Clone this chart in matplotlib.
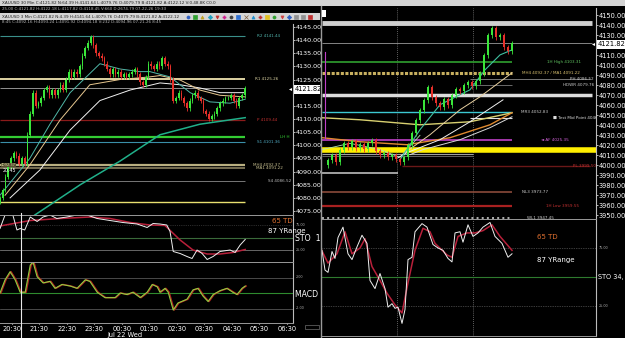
import numpy as np
import matplotlib
matplotlib.use("Agg")
import matplotlib.pyplot as plt
from matplotlib.patches import Rectangle

# ======================= DATA =======================
# ---- Left window: XAUUSD 3 Min (x = minutes after 20:00) ----
left_close = [4080, 4083, 4088, 4092, 4095, 4097, 4096, 4093, 4095, 4093,
              4104, 4112, 4120, 4115, 4116, 4118, 4121, 4122, 4119, 4121,
              4119, 4121, 4123, 4121, 4125, 4128, 4126, 4128, 4127, 4130,
              4134, 4137, 4139, 4141, 4138, 4135, 4134, 4133, 4131, 4129,
              4127, 4129, 4127, 4128, 4126, 4127, 4126, 4127, 4128, 4129,
              4127, 4124, 4123, 4126, 4131, 4130, 4129, 4131, 4130, 4133,
              4131, 4130, 4125, 4117, 4118, 4120, 4118, 4116, 4114, 4117,
              4119, 4120, 4118, 4117, 4113, 4112, 4110, 4111, 4112, 4114,
              4116, 4117, 4118, 4118, 4119, 4117, 4115, 4118, 4119, 4121.82]
left_first_open = 4078.5
left_start_min = 4
left_step_min = 6

left_ma1_t = [4, 69, 113, 157, 222, 266, 309, 331, 375, 419, 462, 506, 539]
left_ma1 = [4081, 4095, 4108, 4120, 4131, 4129, 4128, 4128, 4126, 4120, 4116.5, 4116, 4117.5]
left_ma2_t = [15, 69, 135, 200, 266, 331, 353, 397, 440, 484, 539]
left_ma2 = [4081, 4092.5, 4109.6, 4123, 4125, 4126, 4126.5, 4124.8, 4121, 4119, 4118.4]
left_ma3_t = [26, 91, 157, 222, 288, 353, 397, 440, 484, 539]
left_ma3 = [4080, 4090.6, 4105.8, 4117, 4121, 4123.7, 4123, 4121.8, 4120, 4120]
left_ma4_t = [80, 179, 266, 353, 440, 539]
left_ma4 = [4073.5, 4085, 4094, 4104, 4108, 4110.5]

left_level_values = [4141.44, 4125.26, 4121.82, 4109.44, 4103.2, 4101.36,
                     4092.37, 4091.22, 4086.52, 4078.6]
left_level_labels = ["R2 4141.44", "R1 4125.26", "", "P 4109.44", "LH H",
                     "S1 4101.36", "MH4 4092.37", "MA1 4091.22", "S4 4086.52", ""]

left_sto_t = [4, 15, 32, 41, 48, 58, 70, 85, 98, 113, 128, 150, 172, 194, 216, 244,
              272, 303, 325, 338, 353, 368, 375, 382, 397, 412, 423, 434, 445, 456,
              469, 484, 506, 517, 528, 539]
left_sto_k = [68, 95, 95, 65, 68, 65, 91, 82, 91, 95, 88, 91, 95, 95, 88, 84,
              80, 77, 70, 78, 77, 75, 62, 22, 18, 12, 8, 25, 18, 6,
              12, 22, 25, 20, 35, 46]
left_sto_d_t = [4, 70, 135, 200, 244, 288, 331, 364, 397, 425, 456, 484, 512, 539]
left_sto_d = [73, 84, 88, 91, 88, 80, 75, 74, 45, 25, 17, 17, 20, 26]

left_macd_t = [4, 15, 26, 37, 48, 59, 70, 76, 85, 98, 113, 124, 139, 157, 172, 190,
               200, 216, 233, 255, 266, 281, 294, 310, 325, 336, 347, 353, 364, 371,
               382, 392, 412, 425, 436, 447, 458, 469, 484, 499, 512, 521, 532, 539]
left_macd = [0, 1.7, 2.75, 1.7, 0.1, 0.1, 3.6, 4.0, 2.1, 1.3, 1.5, 0.6, 1.1, 0.9, 0.6, 1.7,
             1.5, 0.1, -0.6, -0.6, 0, -0.2, 0.1, -0.6, 0.1, 1.1, 0.8, 0.1, 0.6, 0.1,
             -2.2, -1.3, -0.8, 0.4, 0.6, -0.4, -1.1, -0.2, 0.3, 0.6, 0.1, -0.2, 0.6, 0.9]

left_time_t = [30, 90, 150, 210, 270, 330, 390, 450, 510, 570, 630]
left_time_labels = ["20:30", "21:30", "22:30", "23:30", "00:30", "01:30",
                    "02:30", "03:30", "04:30", "05:30", "06:30"]
left_price_ticks = list(range(4075, 4146, 5))

# ---- Right window: XAUUSD 30 Min (x = bar index) ----
right_close = [4005, 4010, 4003, 4015, 4022, 4018, 4024, 4017, 4021, 4016,
               4022, 4025, 4014, 4010, 4012, 4008, 4010, 4006, 4003, 4008,
               4020, 4032, 4045, 4055, 4065, 4078, 4068, 4062, 4058, 4066,
               4060, 4070, 4076, 4074, 4080, 4083, 4079, 4084, 4092, 4110,
               4130, 4137, 4128, 4130, 4118, 4114, 4121.82]
right_first_open = 4000

right_ma_yellow_x = [-1.5, 8, 23, 35.5, 46]
right_ma_yellow = [4047.5, 4045.5, 4040.5, 4043.5, 4052.5]
right_ma_orange_x = [-1.5, 8, 19.75, 30.5, 40.5, 46]
right_ma_orange = [4027.6, 4023.6, 4020.6, 4027.6, 4040.5, 4052.5]
right_ma_white1_x = [17.5, 19.75, 28, 35.5, 43.75]
right_ma_white1 = [4007.7, 4012.7, 4025.6, 4043.5, 4065.4]
right_ma_white2_x = [20.5, 23.75, 33, 40.5, 46]
right_ma_white2 = [4010.7, 4015.7, 4025.6, 4037.6, 4048.5]
right_ma_cream_x = [19.25, 25.5, 33, 38, 46]
right_ma_cream = [4012.7, 4030.6, 4055.5, 4068.4, 4092.3]
right_ma_green_x = [18, 23, 28, 35.5, 39.25, 43, 46]
right_ma_green = [4005.7, 4035.6, 4060.5, 4075.4, 4095.3, 4110.2, 4115.2]
right_ma_pale_x = [-1.5, 5.5, 13, 18, 23]
right_ma_pale = [4015.7, 4022, 4015.7, 4008, 4030]

right_level_values = [4142.0, 4121.82, 4103.31, 4092.37, 4086.52, 4079.76, 4070.4,
                      4052.83, 4047.0, 4025.35, 4015.7, 4011.5, 4009.3, 3999.5,
                      3992.8, 3973.77, 3959.55, 3947.45]
right_level_labels = ["", "", "1H High 4103.31", "MH4 4092.37 / MA1 4091.22", "PH 4086.52",
                      "HDWR 4079.76", "", "MR3 4052.83", "\u25a0 Test Mid Point 4046", "\u25c4 AF 4025.35",
                      "", "", "", "PL 3999.50", "", "NL3 3973.77", "1H Low 3959.55", "WL1 3947.45"]
right_level_start = [-1.5, -1.5, -1.5, -1.5, 35.5, 35.5, -1.5, -1.5, 35.5, -1.5,
                     -1.5, -1.5, -1.5, 18.5, -1.5, -1.5, -1.5, -1.5]
right_level_end = [66, 66, 46, 46, 65.5, 46, 66, 46, 46, 46,
                   67, 36.25, 36.25, 65.5, 17.5, 46, 46, 46]
right_day_breaks = [17.25, 36.25]

right_sto_k_x = [-1.5, -0.75, 0, 1, 1.75, 2.5, 3.75, 5, 6, 7.25, 8.5, 9.75, 10.5, 11.75, 13,
                 14.25, 15, 16, 16.75, 17.5, 18.5, 19.25, 20, 21, 21.75, 23.5, 24.75, 26.25,
                 27.5, 28.75, 30, 31, 31.75, 33, 33.75, 35, 36.25, 37.5, 38.75, 40.5, 41.75,
                 43.5, 44.25, 45, 46]
right_sto_k = [73, 56, 54, 72, 66, 84, 93, 70, 65, 76, 86, 79, 47, 40, 53,
               40, 24, 27, 23, 24, 10, 22, 65, 67, 89, 96, 93, 78,
               75, 73, 66, 63, 88, 89, 80, 95, 85, 88, 93, 97, 85,
               79, 73, 67, 70]
right_sto_d_x = [-2, 0, 2.25, 4.25, 6, 8, 9.25, 11, 13, 14.75, 16.75, 18.5, 20, 21.75,
                 23.75, 25.5, 26.75, 29.75, 31, 32.5, 34.75, 36.75, 38.75, 41, 43, 46]
right_sto_d = [76, 62, 70, 89, 70, 75, 83, 59, 47, 36, 26, 19, 45, 73,
               92, 89, 79, 69, 67, 85, 88, 88, 90, 95, 85, 73]
right_price_ticks = list(range(3950, 4151, 10))

# ======================= DRAWING =======================
W, H = 625, 338
fig = plt.figure(figsize=(W / 100, H / 100), dpi=100, facecolor='black')


def pax(x0, y0, x1, y1, z=1):
    ax = fig.add_axes([x0 / W, 1 - y1 / H, (x1 - x0) / W, (y1 - y0) / H], zorder=z)
    ax.set_facecolor('black')
    for s in ax.spines.values():
        s.set_visible(False)
    ax.tick_params(left=False, bottom=False, right=False, top=False,
                   labelleft=False, labelbottom=False)
    return ax


def price_axis(ax, ticks, size, hide=()):
    ax.yaxis.tick_right()
    ax.set_yticks(ticks)
    ax.set_yticklabels(['' if t in hide else f'{t:.2f}' for t in ticks])
    ax.tick_params(axis='y', right=True, labelright=True, colors='white',
                   labelsize=size, length=1.5, width=0.5, pad=0.6)


def vspine(ax):
    ax.spines['right'].set_visible(True)
    ax.spines['right'].set_color('#bbbbbb')
    ax.spines['right'].set_linewidth(0.8)


def candles(ax, x, closes, first_open, width, wick):
    c = np.asarray(closes, float)
    o = np.concatenate([[first_open], c[:-1]])
    hi = np.maximum(o, c) + wick
    lo = np.minimum(o, c) - wick
    col = np.where(c >= o, '#3ae63a', '#e8302a')
    ax.vlines(x, lo, hi, colors=col, lw=0.6, zorder=4)
    ax.bar(x, c - o, bottom=o, width=width, color=col, linewidth=0, zorder=4)


# ---------- left main ----------
lx = left_start_min + left_step_min * np.arange(len(left_close))
axL = pax(0, 24, 293, 215)
axL.set_xlim(4, 643.3)
axL.set_ylim(4073.5, 4146.1)
price_axis(axL, left_price_ticks, 4.6, hide=(4120,))
vspine(axL)

l_lvl_col = ['#3a8f8a', '#efe4b0', '#a8a8a8', '#8b1a1a', '#33cc33', '#3a8fa8',
             '#b8ae80', '#8a8060', '#8a8a8a', '#e8e070']
l_lvl_lw = [0.8, 1.3, 0.6, 0.9, 1.6, 0.8, 1.6, 1.2, 0.6, 1.0]
l_lbl_x = [565, 560, 0, 565, 615, 565, 555, 563, 589, 0]
l_lbl_col = ['#4fb0a8', '#d8d0a0', '#999', '#c03030', '#33cc33', '#4fa8c0',
             '#c8c090', '#c8c090', '#bbbbbb', '#ccc']
for v, lab, c, lw, tx, tc in zip(left_level_values, left_level_labels, l_lvl_col,
                                  l_lvl_lw, l_lbl_x, l_lbl_col):
    axL.hlines(v, 4, 539, color=c, lw=lw, zorder=2)
    if lab:
        axL.text(tx, v, lab, fontsize=3.0, color=tc, va='center', clip_on=True)

axL.plot(left_ma4_t, left_ma4, color='#20b08a', lw=1.1, zorder=3)
axL.plot(left_ma3_t, left_ma3, color='#f2f2f2', lw=0.7, zorder=3)
axL.plot(left_ma2_t, left_ma2, color='#e8c890', lw=0.7, zorder=3)
axL.plot(left_ma1_t, left_ma1, color='#50b8a8', lw=0.7, zorder=3)
candles(axL, lx, left_close, left_first_open, 4.2, 0.9)

# ---------- left STO ----------
axLS = pax(0, 215, 293, 262)
axLS.set_xlim(4, 643.3)
axLS.set_ylim(1, 95)
vspine(axLS)
axLS.spines['top'].set_visible(True)
axLS.spines['top'].set_color('#999999')
axLS.spines['top'].set_linewidth(0.7)
axLS.axhline(50, color='#3a6a3a', lw=0.8)
axLS.axhline(75, color='#555555', lw=0.5, ls=':')
axLS.axhline(25, color='#777777', lw=0.6)
axLS.plot(left_sto_d_t, left_sto_d, color='#b8203a', lw=1.1)
axLS.plot(left_sto_t, left_sto_k, color='#f0f0f0', lw=0.7)

# ---------- left MACD ----------
axLM = pax(0, 262, 293, 323)
axLM.set_xlim(4, 643.3)
axLM.set_ylim(-3.87, 4.0)
vspine(axLM)
for s in ('top', 'bottom'):
    axLM.spines[s].set_visible(True)
    axLM.spines[s].set_color('#999999')
    axLM.spines[s].set_linewidth(0.7)
axLM.axhline(0, color='#2e8b2e', lw=0.8)
axLM.axhline(2, color='#666666', lw=0.5)
axLM.axhline(-2, color='#666666', lw=0.5)
axLM.plot(np.asarray(left_macd_t) + 2, left_macd, color='#b02020', lw=1.1)
axLM.plot(left_macd_t, left_macd, color='#8fd040', lw=0.8)
axLM.set_xticks(left_time_t)
axLM.set_xticklabels(left_time_labels)
axLM.tick_params(axis='x', bottom=True, labelbottom=True, colors='white',
                 labelsize=4.8, length=1, pad=1.5)

# ---------- right main ----------
rx = np.arange(len(right_close))
axR = pax(322, 8, 596, 219)
axR.set_xlim(-1.5, 67)
axR.set_ylim(3946.5, 4157)
price_axis(axR, right_price_ticks, 4.8, hide=(4120,))
vspine(axR)
for b in right_day_breaks:
    axR.axvline(b, color='#808080', lw=0.6, ls=(0, (1, 1.5)), zorder=1)

r_col = ['#cfcfcf', '#9a9a9a', '#2fa02f', '#c8b060', '#8a8a8a', '#7a7a7a', '#dcdcdc',
         '#3cc8d2', '#e0e0e0', '#c040c8', '#ffee00', '#a0a0a0', '#707070', '#6a1818',
         '#bdbdbd', '#8a4a3a', '#a82020', '#b0b0b0']
r_lw = [3.5, 0.6, 1.2, 2.2, 0.6, 0.6, 2.5, 1.0, 0.8, 1.2, 4.0, 0.8, 0.6, 1.0,
        1.2, 1.2, 1.6, 1.4]
r_ls = ['-', '-', '-', (0, (1, 0.5)), '-', '-', '-', '-', '-', '-', '-', '-', '-', '-',
        '-', '-', '-', ':']
r_lbl_x = [0, 0, 54.75, 48.5, 60.5, 58.75, 0, 48.25, 56.25, 53.25, 0, 0, 0, 61.25,
           0, 48.5, 54.5, 49.75]
r_lbl_col = ['w', 'w', '#5fc05f', '#d8c070', '#cccccc', '#cccccc', 'w', '#cccccc',
             '#dddddd', '#d060d8', 'w', 'w', 'w', '#c03030', 'w', '#cccccc',
             '#c03030', '#cccccc']
for v, lab, x0, x1, c, lw, ls, tx, tc in zip(right_level_values, right_level_labels,
                                            right_level_start, right_level_end, r_col,
                                            r_lw, r_ls, r_lbl_x, r_lbl_col):
    axR.hlines(v, x0, x1, color=c, lw=lw, linestyles=ls, zorder=2)
    if lab:
        axR.text(tx, v, lab, fontsize=3.0, color=tc, va='center', clip_on=True)

axR.plot(right_ma_yellow_x, right_ma_yellow, color='#d8d070', lw=1.0, zorder=3)
axR.plot(right_ma_orange_x, right_ma_orange, color='#e08a30', lw=1.0, zorder=3)
axR.plot(right_ma_pale_x, right_ma_pale, color='#b0e0b0', lw=0.6, zorder=3)
axR.plot(right_ma_white1_x, right_ma_white1, color='#f0f0f0', lw=0.7, zorder=3)
axR.plot(right_ma_white2_x, right_ma_white2, color='#d8d8d8', lw=0.7, zorder=3)
axR.plot(right_ma_cream_x, right_ma_cream, color='#e8d0a0', lw=0.7, zorder=3)
axR.plot(right_ma_green_x, right_ma_green, color='#40c0a0', lw=0.8, zorder=3)
candles(axR, rx, right_close, right_first_open, 0.6, 2.5)

# ---------- right STO ----------
axRS = pax(322, 219, 596, 336)
axRS.set_xlim(-1.5, 67)
axRS.set_ylim(-0.86, 100)
vspine(axRS)
for s in ('top', 'bottom'):
    axRS.spines[s].set_visible(True)
    axRS.spines[s].set_color('#999999')
    axRS.spines[s].set_linewidth(0.7)
for b in right_day_breaks:
    axRS.axvline(b, color='#808080', lw=0.6, ls=(0, (1, 1.5)))
axRS.axhline(50, color='#2e7a2e', lw=0.8)
axRS.axhline(75, color='#777777', lw=0.5, ls=(0, (1, 1.5)))
axRS.axhline(25, color='#777777', lw=0.5, ls=(0, (1, 1.5)))
axRS.plot(right_sto_d_x, right_sto_d, color='#b8203a', lw=1.1)
axRS.plot(right_sto_k_x, right_sto_k, color='#f0f0f0', lw=0.7)

# ---------- overlays (pixel coordinates) ----------
top = fig.add_axes([0, 0, 1, 1], zorder=8)
top.set_xlim(0, W)
top.set_ylim(H, 0)
top.axis('off')
top.add_patch(Rectangle((0, 0), W, 6, color='#d4d4d4', lw=0))
top.add_patch(Rectangle((0, 13), 320, 7, color='#d4d4d4', lw=0))
top.plot([321, 321], [6, H], color='#9a9a9a', lw=1.0)
top.text(2, 3, "XAUUSD 30 Min C:4121.82 N:64.39 H:4141.64 L:4079.76 O:4079.79 "
         "B:4121.82 A:4122.12 V:0.48.8K C0.0", fontsize=3.0, color='#222222', va='center')
top.text(2, 9.5, "25.00 C:4121.82 H:4122.18 L:4117.82 O:4118.45 V:660 D:2674.79 "
         "07-22-26 19:33", fontsize=2.9, color='#bbbbbb', va='center')
top.text(2, 16.5, "XAUUSD 3 Min C:4121.82 N:4.39 H:4141.64 L:4079.76 O:4079.79 "
         "B:4121.82 A:4122.12", fontsize=3.0, color='#222222', va='center')
top.text(2, 22, "8:45 C:4092.16 H:4093.24 L:4091.92 O:4094.18 V:232 D:4094.96 "
         "07-21-26 8:45", fontsize=2.9, color='#bbbbbb', va='center')
icon_cols = ['#3060c0', '#30a030', '#c0a020', '#20a0c0', '#c03030', '#d02090', '#404040',
             '#3070d0', '#806040', '#2090d0', '#c03030', '#e0c020', '#30a030', '#d04040',
             '#3060c0', '#909090', '#909090', '#c03030']
icon_mk = ['o', 's', '^', 'D', 'v', 'P', 'o', 's', 'x', '^', 'P', 's', 'o', 'v',
           'D', 's', 's', 's']
for k, (ic, im) in enumerate(zip(icon_cols, icon_mk)):
    top.plot(188 + k * 7.2, 16.5, marker=im, ms=2.2, color=ic, mew=0.5)

lov = fig.add_axes([0, 0, 320 / W, 1], zorder=9)
lov.set_xlim(0, 320)
lov.set_ylim(H, 0)
lov.axis('off')
lov.add_patch(Rectangle((294, 84.5), 27, 9, color='white', lw=0))
lov.text(295, 89.2, "4121.82", fontsize=4.8, color='black', va='center', clip_on=True)
lov.plot(289.5, 89.2, marker='<', ms=2.2, color='white', mew=0)
lov.plot([20.7, 20.7], [213, H], color='#e8e8e8', lw=0.8)
lov.text(1, 165, "4092.37", fontsize=2.6, color='#d8d0a0', va='center',
         bbox=dict(boxstyle='square,pad=0.1', fc='#555030', ec='none'))
lov.text(3, 171, "20.45", fontsize=3.4, color='white', va='center')
lov.text(272, 221, "65 TD", fontsize=5, color='#e07030', va='center')
lov.text(268, 231, "87 YRange", fontsize=5, color='white', va='center')
lov.text(295, 238.5, "STO  10", fontsize=5.6, color='white', va='center', clip_on=True)
lov.text(295, 295, "MACD 4,", fontsize=5.6, color='white', va='center', clip_on=True)
lov.text(296, 225, "75.00", fontsize=2.4, color='#aaaaaa', va='center')
lov.text(296, 250, "25.00", fontsize=2.4, color='#aaaaaa', va='center')
lov.text(296, 277, "2.00", fontsize=2.4, color='#aaaaaa', va='center')
lov.text(296, 308, "-2.00", fontsize=2.4, color='#aaaaaa', va='center')
lov.text(125, 335.5, "Jul 22 Wed", fontsize=4.8, color='white', ha='center', va='center')
lov.add_patch(Rectangle((305, 325), 14, 4, fill=False, ec='#888888', lw=0.4))

rov = fig.add_axes([322 / W, 0, 303 / W, 1], zorder=9)
rov.set_xlim(322, 625)
rov.set_ylim(H, 0)
rov.axis('off')
rov.add_patch(Rectangle((597, 39.5), 28, 9, color='white', lw=0))
rov.text(598, 44, "4121.82", fontsize=4.9, color='black', va='center', clip_on=True)
rov.plot(593, 44, marker='<', ms=2.2, color='white', mew=0)
rov.plot([324.5, 324.5], [52, 138], color='#c040c8', lw=0.8)
rov.add_patch(Rectangle((322, 10), 4, 7, color='white', lw=0))
rov.text(537, 237, "65 TD", fontsize=5, color='#e07030', va='center')
rov.text(537, 260, "87 YRange", fontsize=5, color='white', va='center')
rov.text(597.5, 277, "STO 34,", fontsize=4.7, color='white', va='center', clip_on=True)
rov.text(599, 248, "75.00", fontsize=2.4, color='#aaaaaa', va='center')
rov.text(599, 306, "25.00", fontsize=2.4, color='#aaaaaa', va='center')

fig.savefig("out.png", dpi=100, facecolor='black')
